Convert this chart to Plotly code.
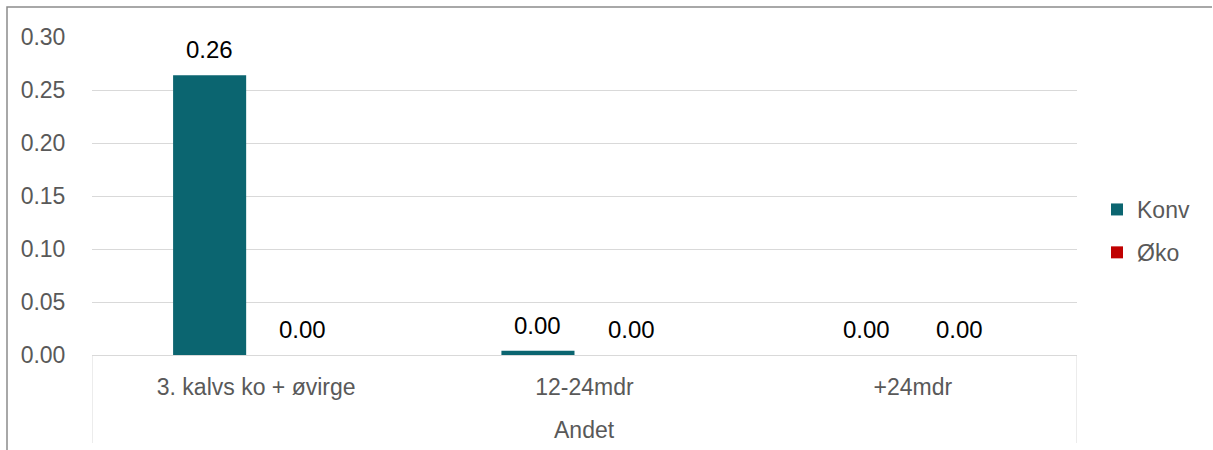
import plotly.graph_objects as go

group = "Andet"
categories = ["3. kalvs ko + øvirge", "12-24mdr", "+24mdr"]
konv = [0.264, 0.004, 0.0]
oko = [0.0, 0.0, 0.0]
series_names = ["Konv", "Øko"]
colors = ["#0B6570", "#C00000"]

BARGAP = 0.433
BARGROUPGAP = 0.215
FONT = "Liberation Sans, Arial, sans-serif"
GRID = "#D9D9D9"
TXT = "#595959"

fig = go.Figure()
for name, vals, col in zip(series_names, [konv, oko], colors):
    fig.add_trace(go.Bar(
        x=categories, y=vals, name=name, marker_color=col, marker_line_width=0,
        legendgroup=name,
    ))

# data labels, positioned over the bar centres via a hidden numeric overlay axis
n_series = len(series_names)
slot = (1 - BARGAP) / n_series
for s, vals in enumerate([konv, oko]):
    off = -(1 - BARGAP) / 2 + slot * (s + 0.5)
    for i, v in enumerate(vals):
        fig.add_annotation(x=i + off, y=v, xref="x2", yref="y", text=f"{v:.2f}",
                           showarrow=False, yanchor="bottom", yshift=10,
                           font=dict(size=24, color="#000000", family=FONT))

L, R, T, B = 92, 136, 37, 95
W, H = 1213, 450
pw, ph = W - L - R, H - T - B

# group label
fig.add_annotation(x=(len(categories) - 1) / 2, xref="x2", y=-(430 - 355) / ph, yref="paper",
                   text=group, showarrow=False, yanchor="middle",
                   font=dict(size=23, color=TXT, family=FONT))
# group dividers
for xd in [-0.5, len(categories) - 0.5]:
    fig.add_shape(type="line", xref="x2", yref="paper", x0=xd, x1=xd,
                  y0=0, y1=-(443 - 355) / ph, line=dict(color=GRID, width=1))

fig.update_layout(
    width=W, height=H,
    margin=dict(l=L, r=R, t=T, b=B, pad=0),
    paper_bgcolor="white", plot_bgcolor="white",
    barmode="group", bargap=BARGAP, bargroupgap=BARGROUPGAP,
    font=dict(family=FONT, size=23, color=TXT),
    showlegend=True,
    legend=dict(x=(1097 - L) / pw, y=(355 - 188) / ph, xanchor="left", yanchor="top",
                font=dict(size=23, color=TXT), tracegroupgap=10,
                bgcolor="rgba(0,0,0,0)"),
    xaxis=dict(type="category", range=[-0.5, len(categories) - 0.5],
               showline=True, linecolor=GRID, linewidth=1, showgrid=False,
               ticks="outside", ticklen=11, tickcolor="rgba(0,0,0,0)",
               tickfont=dict(size=23, color=TXT)),
    xaxis2=dict(overlaying="x", range=[-0.5, len(categories) - 0.5], visible=False,
                showgrid=False, zeroline=False),
    yaxis=dict(range=[0, 0.30], dtick=0.05, tickformat=".2f",
               showgrid=True, gridcolor=GRID, gridwidth=1,
               zeroline=True, zerolinecolor=GRID, zerolinewidth=1,
               showline=False, ticks="outside", ticklen=21, tickcolor="rgba(0,0,0,0)",
               tickfont=dict(size=23, color=TXT)),
)

# chart border (left and top only)
x0 = (7 - L) / pw
xr = (W - 1 - L) / pw
y0 = 1 + (T - 7) / ph
yb = -(H - T - ph) / ph
fig.add_shape(type="path", xref="paper", yref="paper",
              path=f"M {x0} {yb} L {x0} {y0} L {xr} {y0}",
              line=dict(color="#8C8C8C", width=1.5))

fig.write_html("out.html", config={"displayModeBar": False},
               post_script="document.body.style.margin='0';")
